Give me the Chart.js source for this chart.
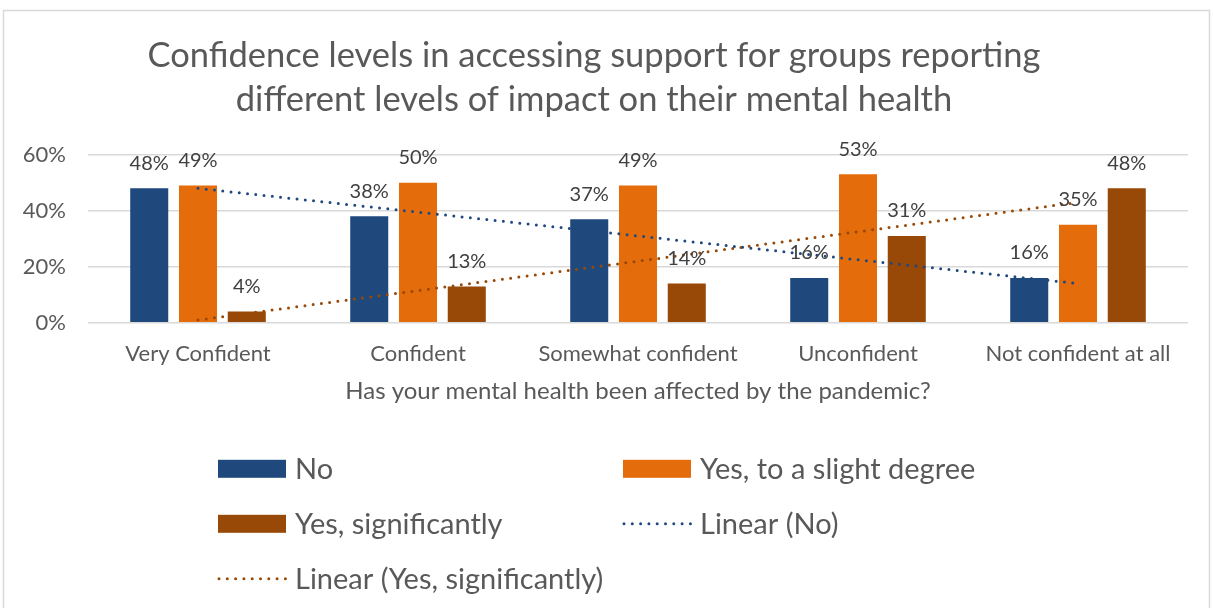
<!DOCTYPE html>
<html>
<head>
<meta charset="utf-8">
<script src="https://cdn.jsdelivr.net/npm/chart.js@4.4.1/dist/chart.umd.min.js"></script>
<style>
  html, body { margin: 0; padding: 0; background: #fff; }
  #wrap { width: 1213px; height: 608px; position: relative; }
</style>
</head>
<body>
<div id="wrap"><canvas id="chart"></canvas></div>
<script>
// data
const categories = ['Very Confident', 'Confident', 'Somewhat confident', 'Unconfident', 'Not confident at all'];
const noValues = [48, 38, 37, 16, 16];
const slightValues = [49, 50, 49, 53, 35];
const significantValues = [4, 13, 14, 31, 48];
// trendline end points (start / end only)
const noTrend = [48, null, null, null, 14];
const significantTrend = [1, null, null, null, 43];
const yTicks = [0, 20, 40, 60];

const FONT = 'Lato, "Open Sans", sans-serif';
const GREY = '#595959';
const BLUE = '#1F497D';
const ORANGE = '#E46C0A';
const BROWN = '#984807';

// white background + thin frame like the excel chart box
const framePlugin = {
    id: 'frame',
    beforeDraw(chart) {
        const c = chart.ctx;
        c.save();
        c.fillStyle = '#fff';
        c.fillRect(0, 0, chart.width, chart.height);
        c.strokeStyle = '#d9d9d9';
        c.lineWidth = 1.5;
        c.strokeRect(3.5, 10.5, chart.width - 7, chart.height + 20);
        c.restore();
    }
};

// percentage labels above each bar
const barLabels = {
    id: 'barLabels',
    afterDatasetsDraw(chart) {
        const c = chart.ctx;
        c.save();
        c.font = '20px ' + FONT;
        c.fillStyle = '#404040';
        c.textAlign = 'center';
        c.textBaseline = 'middle';
        chart.data.datasets.forEach((ds, i) => {
            if (ds.type !== 'bar') return;
            chart.getDatasetMeta(i).data.forEach((el, j) => {
                c.fillText(ds.data[j] + '%', el.x, el.y - 25);
            });
        });
        c.restore();
    }
};

// two-column legend under the axis title
const gridLegend = {
    id: 'gridLegend',
    afterDraw(chart) {
        const c = chart.ctx;
        const area = chart.chartArea;
        const colX = [area.left + 130, area.left + 535];
        const rowY = [area.bottom + 146, area.bottom + 201, area.bottom + 256];
        c.save();
        c.font = '29px ' + FONT;
        c.textBaseline = 'middle';
        c.textAlign = 'left';
        chart.data.datasets.forEach((ds, i) => {
            const x = colX[i % 2];
            const y = rowY[Math.floor(i / 2)];
            if (ds.type === 'bar') {
                c.fillStyle = ds.backgroundColor;
                c.fillRect(x, y - 9, 68, 18);
            } else {
                c.strokeStyle = ds.borderColor;
                c.lineWidth = 3;
                c.lineCap = 'round';
                c.setLineDash([0, 8.3]);
                c.beginPath();
                c.moveTo(x + 1, y);
                c.lineTo(x + 68, y);
                c.stroke();
                c.setLineDash([]);
            }
            c.fillStyle = GREY;
            c.fillText(ds.label, x + 77, y + 1);
        });
        c.restore();
    }
};

const barStyle = { categoryPercentage: 0.665, barPercentage: 0.78, order: 1 };
const trendStyle = {
    type: 'line', borderWidth: 3, borderDash: [0, 8.3], borderCapStyle: 'round',
    pointRadius: 0, spanGaps: true, fill: false, order: 0
};

new Chart(document.getElementById('chart'), {
    type: 'bar',
    data: {
        labels: categories,
        datasets: [
            { type: 'bar', label: 'No', data: noValues, backgroundColor: BLUE, ...barStyle },
            { type: 'bar', label: 'Yes, to a slight degree', data: slightValues, backgroundColor: ORANGE, ...barStyle },
            { type: 'bar', label: 'Yes, significantly', data: significantValues, backgroundColor: BROWN, ...barStyle },
            { label: 'Linear (No)', data: noTrend, borderColor: BLUE, ...trendStyle },
            { label: 'Linear (Yes, significantly)', data: significantTrend, borderColor: BROWN, ...trendStyle }
        ]
    },
    options: {
        responsive: true,
        maintainAspectRatio: false,
        animation: false,
        layout: { padding: { top: 33, left: 0, right: 25, bottom: 202 } },
        plugins: {
            legend: { display: false },
            tooltip: { enabled: false },
            title: {
                display: true,
                text: ['Confidence levels in accessing support for groups reporting',
                       'different levels of impact on their mental health'],
                color: GREY,
                font: { family: FONT, size: 34.5, weight: 'normal', lineHeight: 1.3 },
                padding: { top: 0, bottom: 32 }
            }
        },
        scales: {
            x: {
                grid: { display: false, drawTicks: false },
                border: { display: false },
                ticks: { color: GREY, font: { family: FONT, size: 22 }, padding: 18, maxRotation: 0 },
                title: {
                    display: true,
                    text: 'Has your mental health been affected by the pandemic?',
                    color: GREY,
                    font: { family: FONT, size: 24 },
                    padding: { top: -8, bottom: 0 }
                }
            },
            y: {
                min: 0,
                max: 60,
                afterFit(scale) { scale.width = 88; },
                afterBuildTicks(scale) { scale.ticks = yTicks.map(v => ({ value: v })); },
                grid: { color: '#d9d9d9', lineWidth: 1.5, drawTicks: false },
                border: { display: false },
                ticks: { color: GREY, font: { family: FONT, size: 22 }, padding: 22, callback: v => v + '%' }
            }
        }
    },
    plugins: [framePlugin, barLabels, gridLegend]
});
</script>
</body>
</html>
